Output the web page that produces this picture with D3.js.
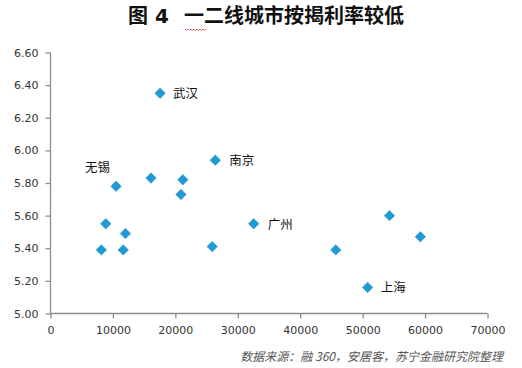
<!DOCTYPE html>
<html>
<head>
<meta charset="utf-8">
<script src="https://cdn.jsdelivr.net/npm/d3@7"></script>
<style>
  body { margin: 0; background: #fff; }
  text { font-family: "DejaVu Sans", "Noto Sans CJK SC", sans-serif; }
</style>
</head>
<body>
<div class="svg-container"></div>
<script>
var width = 522,
  height = 368;

// 每个城市：收入/房价指标 与 按揭利率
var cities = ["武汉", "南京", "无锡", "", "", "", "", "", "", "", "", "广州", "", "", "", "上海"];
var xValues = [17550, 26400, 10500, 16100, 21200, 20900, 8850, 12000, 8150, 11650, 25900, 32550, 45700, 54300, 59250, 50800];
var yValues = [6.35, 5.94, 5.78, 5.83, 5.82, 5.73, 5.55, 5.49, 5.39, 5.39, 5.41, 5.55, 5.39, 5.60, 5.47, 5.16];
var xTicks = [0, 10000, 20000, 30000, 40000, 50000, 60000, 70000];
var yTicks = [5.00, 5.20, 5.40, 5.60, 5.80, 6.00, 6.20, 6.40, 6.60];

var data = xValues.map(function(x, i) {
  return { x: x, y: yValues[i], name: cities[i] };
});

var svg = d3.select(".svg-container").append("svg")
  .attr("width", width)
  .attr("height", height);

var x = d3.scaleLinear().domain([0, 70000]).range([50.5, 487.5]);
var y = d3.scaleLinear().domain([5.0, 6.6]).range([313.5, 52.5]);

// title
var title = svg.append("text")
  .attr("y", 23)
  .attr("font-size", 20)
  .attr("font-weight", "bold")
  .attr("fill", "#111");
title.append("tspan").attr("x", 128).text("图 4");
title.append("tspan").attr("x", 184).text("一二线城市按揭利率较低");

// red squiggle under 一二 (spell check mark in source)
var sq = "M185,29";
for (var k = 0; k < 14; k++) {
  sq += " l1.5," + (k % 2 ? -1.5 : 1.5);
}
svg.append("path").attr("d", sq).attr("fill", "none")
  .attr("stroke", "#e0403a").attr("stroke-width", 0.8);

var xAxis = d3.axisBottom(x).tickValues(xTicks).tickSize(5).tickFormat(d3.format("d"));
var yAxis = d3.axisLeft(y).tickValues(yTicks).tickSize(5).tickFormat(d3.format(".2f"));

var gx = svg.append("g")
  .attr("transform", "translate(0," + y(5.0) + ")")
  .call(xAxis);
var gy = svg.append("g")
  .attr("transform", "translate(" + x(0) + ",0)")
  .call(yAxis);

[gx, gy].forEach(function(g) {
  g.select(".domain").attr("stroke", "#8c8c8c").attr("stroke-width", 1.3);
  g.selectAll(".tick line").attr("stroke", "#8c8c8c").attr("stroke-width", 1.3);
  g.selectAll(".tick text")
    .attr("fill", "#333")
    .attr("font-size", 11)
    .style("font-family", "'DejaVu Sans', sans-serif");
});
gx.select(".domain").attr("d", "M" + x(0) + ",0H" + x(70000));
gy.select(".domain").attr("d", "M0," + y(6.6) + "V" + y(5.0));
gx.selectAll(".tick text").attr("dy", "1.1em");
gy.selectAll(".tick text").attr("x", -12);

// diamond markers
var diamond = d3.symbol().type(d3.symbolDiamond2).size(70);
svg.selectAll("path.pt")
  .data(data)
  .enter()
  .append("path")
  .attr("class", "pt")
  .attr("d", diamond)
  .attr("transform", function(d) {
    return "translate(" + x(d.x) + "," + y(d.y) + ")";
  })
  .attr("fill", "#1f9ad6")
  .attr("stroke", "#1b8cc4")
  .attr("stroke-width", 0.5);

// labels
var labelOffset = {
  "武汉": [13, 0],
  "南京": [14, 0],
  "无锡": [-31, -19],
  "广州": [14, 0],
  "上海": [13, 0]
};
svg.selectAll("text.lbl")
  .data(data.filter(function(d) { return d.name; }))
  .enter()
  .append("text")
  .attr("class", "lbl")
  .attr("x", function(d) { return x(d.x) + labelOffset[d.name][0]; })
  .attr("y", function(d) { return y(d.y) + labelOffset[d.name][1]; })
  .attr("dy", "0.38em")
  .attr("font-size", 12.5)
  .attr("fill", "#111")
  .style("font-family", "'Noto Sans CJK SC', sans-serif")
  .text(function(d) { return d.name; });

// source note
svg.append("text")
  .attr("x", 503)
  .attr("y", 361)
  .attr("text-anchor", "end")
  .attr("font-size", 12)
  .attr("font-style", "italic")
  .attr("fill", "#555")
  .style("font-family", "'Noto Sans CJK SC', sans-serif")
  .text("数据来源：融 360，安居客，苏宁金融研究院整理");
</script>
</body>
</html>
